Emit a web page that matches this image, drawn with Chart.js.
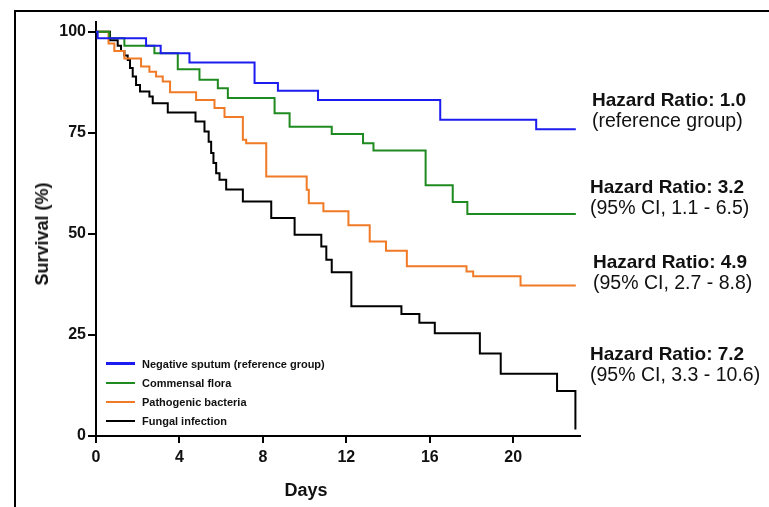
<!DOCTYPE html>
<html>
<head>
<meta charset="utf-8">
<script src="https://cdn.jsdelivr.net/npm/chart.js@4.4.1/dist/chart.umd.min.js"></script>
<style>
  html, body { margin: 0; padding: 0; background: #fff; }
  #wrap { position: relative; width: 769px; height: 507px; overflow: hidden; font-family: 'Liberation Sans', Arial, sans-serif; color: #111; }
  #frame { position: absolute; left: 14px; top: 10px; right: -10px; bottom: -10px; border-left: 2px solid #000; border-top: 2px solid #000; }
  #chart { position: absolute; left: 0; top: 0; }
  .note { position: absolute; line-height: 21px; white-space: nowrap; }
  .note .hr { font-weight: bold; font-size: 19px; }
  .note .ci { font-size: 19.5px; }
  .axis-title { position: absolute; font-size: 18px; font-weight: bold; white-space: nowrap; line-height: 20px; }
  #ytitle { left: 42px; top: 234px; transform: translate(-50%, -50%) rotate(-90deg); }
  #xtitle { left: 306px; top: 490px; transform: translate(-50%, -50%); }
  #legend { position: absolute; left: 106px; top: 354px; }
  #legend .row { display: flex; align-items: center; height: 19.2px; font-size: 11px; font-weight: bold; white-space: nowrap; }
  #legend .swatch { width: 29px; height: 2.5px; margin-right: 7px; }
</style>
</head>
<body>
<div id="wrap">
  <div id="frame"></div>
  <canvas id="chart" width="769" height="507"></canvas>
  <div id="ytitle" class="axis-title">Survival (%)</div>
  <div id="xtitle" class="axis-title">Days</div>
  <div id="legend"></div>
  <div id="notes"></div>
</div>
<script>
// Kaplan-Meier steps: survival (%) after each drop at the given day
const negDays = [0, 0.08, 2.4, 3.1, 4.48, 7.6, 8.72, 10.64, 16.5, 21.1, 23.0];
const negSurv = [100, 98.4, 96.5, 94.7, 92.4, 87.3, 85.4, 83.1, 78.2, 75.9, 75.9];

const commDays = [0, 0.64, 1.36, 2.8, 3.92, 4.96, 5.84, 6.32, 8.56, 9.28, 11.3, 12.8, 13.3, 15.8, 17.1, 17.8, 23.0];
const commSurv = [100, 98.4, 96.5, 94.7, 90.7, 88.1, 86.0, 83.6, 79.8, 76.5, 74.7, 72.4, 70.6, 62.0, 57.9, 54.9, 54.9];

const pathDays = [0, 0.6, 0.88, 1.36, 2.16, 2.56, 2.88, 3.2, 3.55, 4.8, 5.68, 6.16, 7.04, 7.2, 8.16, 10.1, 10.2, 10.9, 12.1, 13.12, 13.9, 14.9, 17.76, 18.08, 20.35, 23.0];
const pathSurv = [100, 97.1, 95.2, 93.4, 91.4, 90.1, 88.9, 87.7, 85.0, 83.1, 81.1, 78.9, 73.3, 72.4, 64.2, 60.9, 57.6, 55.6, 52.1, 48.1, 45.8, 42.0, 40.7, 39.5, 37.2, 37.2];

const fungDays = [0, 0.67, 1.04, 1.2, 1.36, 1.52, 1.63, 1.76, 1.92, 2.11, 2.56, 2.72, 3.44, 4.77, 5.2, 5.4, 5.52, 5.63, 5.76, 5.92, 6.24, 7.04, 8.4, 9.52, 10.8, 11.04, 11.3, 12.24, 14.64, 15.5, 16.24, 18.4, 19.4, 22.1, 22.98];
const fungSurv = [100, 97.9, 96.5, 95.2, 94.1, 93.0, 91.0, 88.9, 86.8, 85.2, 84.0, 82.3, 80.0, 77.8, 75.3, 72.8, 70.0, 67.5, 65.0, 63.4, 61.0, 58.0, 53.9, 49.8, 46.9, 43.6, 40.5, 32.1, 30.2, 28.0, 25.4, 20.4, 15.4, 11.1, 1.6];

const groupLabels = ['Negative sputum (reference group)', 'Commensal flora', 'Pathogenic bacteria', 'Fungal infection'];
const hazardLabels = ['Hazard Ratio: 1.0', 'Hazard Ratio: 3.2', 'Hazard Ratio: 4.9', 'Hazard Ratio: 7.2'];
const ciLabels = ['(reference group)', '(95% CI, 1.1 - 6.5)', '(95% CI, 2.7 - 8.8)', '(95% CI, 3.3 - 10.6)'];

const xTicks = [0, 4, 8, 12, 16, 20];
const yTicks = [0, 25, 50, 75, 100];

// layout / style (not data)
const colors = ['#1c1cf0', '#1f8a1f', '#f07a25', '#000000'];
const notePos = [[592, 89], [590, 176], [593, 251], [590, 343]];

const toPoints = (days, surv) => days.map((d, i) => ({ x: d, y: surv[i] }));
const series = [
  toPoints(negDays, negSurv),
  toPoints(commDays, commSurv),
  toPoints(pathDays, pathSurv),
  toPoints(fungDays, fungSurv)
];

const tickFont = { family: "'Liberation Sans', Arial, sans-serif", size: 16, weight: 'bold' };

const chart = new Chart(document.getElementById('chart'), {
  type: 'line',
  data: {
    datasets: series.map((pts, i) => ({
      label: groupLabels[i],
      data: pts,
      borderColor: colors[i],
      backgroundColor: colors[i],
      borderWidth: 2,
      pointRadius: 0,
      stepped: 'before',
      fill: false
    }))
  },
  options: {
    responsive: false,
    animation: false,
    devicePixelRatio: 1,
    layout: { padding: { left: 0, top: 22, right: 189, bottom: 0 } },
    plugins: { legend: { display: false }, tooltip: { enabled: false } },
    scales: {
      x: {
        type: 'linear',
        min: 0,
        max: 23.2,
        afterBuildTicks: axis => { axis.ticks = xTicks.map(v => ({ value: v })); },
        afterFit: axis => { axis.height = 71; },
        border: { display: true, color: '#000', width: 2 },
        grid: { drawOnChartArea: false, drawTicks: true, tickLength: 7, color: '#000', lineWidth: 2 },
        ticks: { font: tickFont, color: '#111', padding: 5, maxRotation: 0 }
      },
      y: {
        min: 0,
        max: 102.4,
        afterBuildTicks: axis => { axis.ticks = yTicks.map(v => ({ value: v })); },
        afterFit: axis => { axis.width = 96; },
        border: { display: true, color: '#000', width: 2 },
        grid: { drawOnChartArea: false, drawTicks: true, tickLength: 8, color: '#000', lineWidth: 2 },
        ticks: { font: tickFont, color: '#111', padding: 2 }
      }
    }
  }
});

// legend built from the chart's datasets
const legendEl = document.getElementById('legend');
chart.data.datasets.forEach(ds => {
  const row = document.createElement('div');
  row.className = 'row';
  row.innerHTML = `<span class="swatch" style="background:${ds.borderColor}"></span><span>${ds.label}</span>`;
  legendEl.appendChild(row);
});

// hazard ratio notes on the right
const notesEl = document.getElementById('notes');
hazardLabels.forEach((txt, i) => {
  const div = document.createElement('div');
  div.className = 'note';
  div.style.left = notePos[i][0] + 'px';
  div.style.top = notePos[i][1] + 'px';
  div.innerHTML = `<div class="hr">${txt}</div><div class="ci">${ciLabels[i]}</div>`;
  notesEl.appendChild(div);
});
</script>
</body>
</html>
